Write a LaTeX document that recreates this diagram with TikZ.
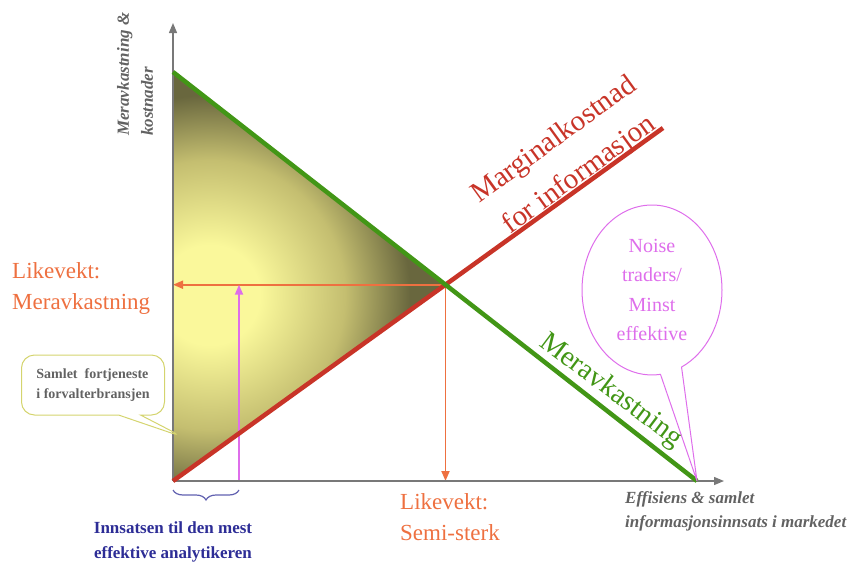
\documentclass[tikz,border=0pt]{standalone}
\usepackage{fontspec}
\setmainfont{Liberation Serif}
\usepackage{xcolor}
\usepackage{tikz}
\usetikzlibrary{arrows.meta,shapes.callouts,decorations.pathreplacing}

\definecolor{aksegra}{RGB}{120,120,120}
\definecolor{tekstgra}{RGB}{98,98,98}
\definecolor{likevekt}{RGB}{238,112,64}
\definecolor{kostrod}{RGB}{200,52,40}
\definecolor{avkgronn}{RGB}{66,150,22}
\definecolor{noise}{RGB}{222,110,235}
\definecolor{innsats}{RGB}{45,45,150}
\definecolor{boble}{RGB}{212,212,110}
\definecolor{lysgul}{RGB}{250,248,155}
\definecolor{midoliven}{RGB}{196,190,112}
\definecolor{morkoliven}{RGB}{105,103,62}

\pgfdeclareradialshading{fortjeneste}{\pgfpointorigin}{%
  color(0bp)=(lysgul); color(5bp)=(lysgul); color(13.5bp)=(midoliven);
  color(20bp)=(morkoliven); color(50bp)=(morkoliven)}

\begin{document}
\begin{tikzpicture}[x=1pt,y=-1pt,
  akse/.style={aksegra,line width=1.3pt,-{Triangle[length=10pt,width=8pt]}},
  likevektpil/.style={likevekt,line width=1.8pt,-{Triangle[length=10pt,width=8pt]}},
  kurve/.style={line width=4.5pt},
  stortekst/.style={font=\fontsize{23}{31}\selectfont,text=likevekt,align=left,inner sep=0pt},
  aksetekst/.style={font=\fontsize{17}{24}\selectfont\bfseries\itshape,text=tekstgra,align=left,inner sep=0pt}]
  \useasboundingbox (0,0) rectangle (855,565);

  \coordinate (O) at (173,481);
  \coordinate (ytop) at (173,23);
  \coordinate (xend) at (724,481);
  \coordinate (G0) at (173,72);
  \coordinate (G1) at (697,481);
  \coordinate (R1) at (663,128);
  \coordinate (E) at (intersection of G0--G1 and O--R1);
  \coordinate (M) at (239,481);
  \coordinate (tipS) at (183,437);

  \begin{scope}
    \clip (G0) -- (E) -- (O) -- cycle;
    \shade[shading=fortjeneste] (-40,45) rectangle (460,545);
  \end{scope}

  \draw[likevektpil] (E) -- (O |- E);
  \draw[likevektpil] (E) -- (E |- O);
  \draw[noise,line width=1.8pt,-{Triangle[length=10pt,width=8pt]}] (M) -- (M |- E);

  \draw[akse] (O) -- (ytop);
  \draw[akse] (O) -- (xend);

  \draw[kurve,kostrod] (O) -- (R1);
  \draw[kurve,avkgronn] (G0) -- (G1);

  \draw[innsats!75,line width=1.2pt,decorate,decoration={brace,amplitude=10pt}]
    ([yshift=-9pt]M) -- ([yshift=-9pt]O);

  \node[aksetekst,rotate=90,anchor=north west] (ylab) at (117,136)
    {Meravkastning \&\\kostnader};
  \node[aksetekst,anchor=north west] (xlab) at (625,491)
    {Effisiens \& samlet\\informasjonsinnsats i markedet};

  \node[stortekst,anchor=north west] (likevektY) at (12,262) {Likevekt:\\Meravkastning};
  \node[stortekst,anchor=north west] (likevektX) at (400,493) {Likevekt:\\Semi-sterk};

  \node[font=\fontsize{29}{43}\selectfont,text=kostrod,align=center,inner sep=0pt,rotate=36]
    (kostlab) at (567,158) {Marginalkostnad\\for informasjon};
  \node[font=\fontsize{28.5}{34}\selectfont,text=avkgronn,inner sep=0pt,rotate=-37]
    (avklab) at (611,391) {Meravkastning};

  \node[rectangle callout,rounded corners=13pt,draw=boble,line width=1pt,
    minimum width=143pt,minimum height=60pt,callout absolute pointer=(tipS),
    callout pointer width=22pt,font=\fontsize{14}{20}\selectfont\bfseries,
    text=tekstgra,align=left] (fortjeneste) at (93,385)
    {Samlet\ \ fortjeneste\\i forvalterbransjen};

  \node[ellipse callout,draw=noise,line width=1pt,minimum width=140pt,
    minimum height=170pt,callout absolute pointer=(G1),callout pointer arc=18,
    font=\fontsize{20}{29.5}\selectfont,text=noise,align=center,inner sep=0pt]
    (noisebobl) at (652,290) {Noise\\traders/\\Minst\\effektive};

  \node[font=\fontsize{17}{25}\selectfont\bfseries,text=innsats,align=center,
    inner sep=0pt,anchor=north] (innsats) at (173,521)
    {Innsatsen til den mest\\effektive analytikeren};
\end{tikzpicture}
\end{document}
